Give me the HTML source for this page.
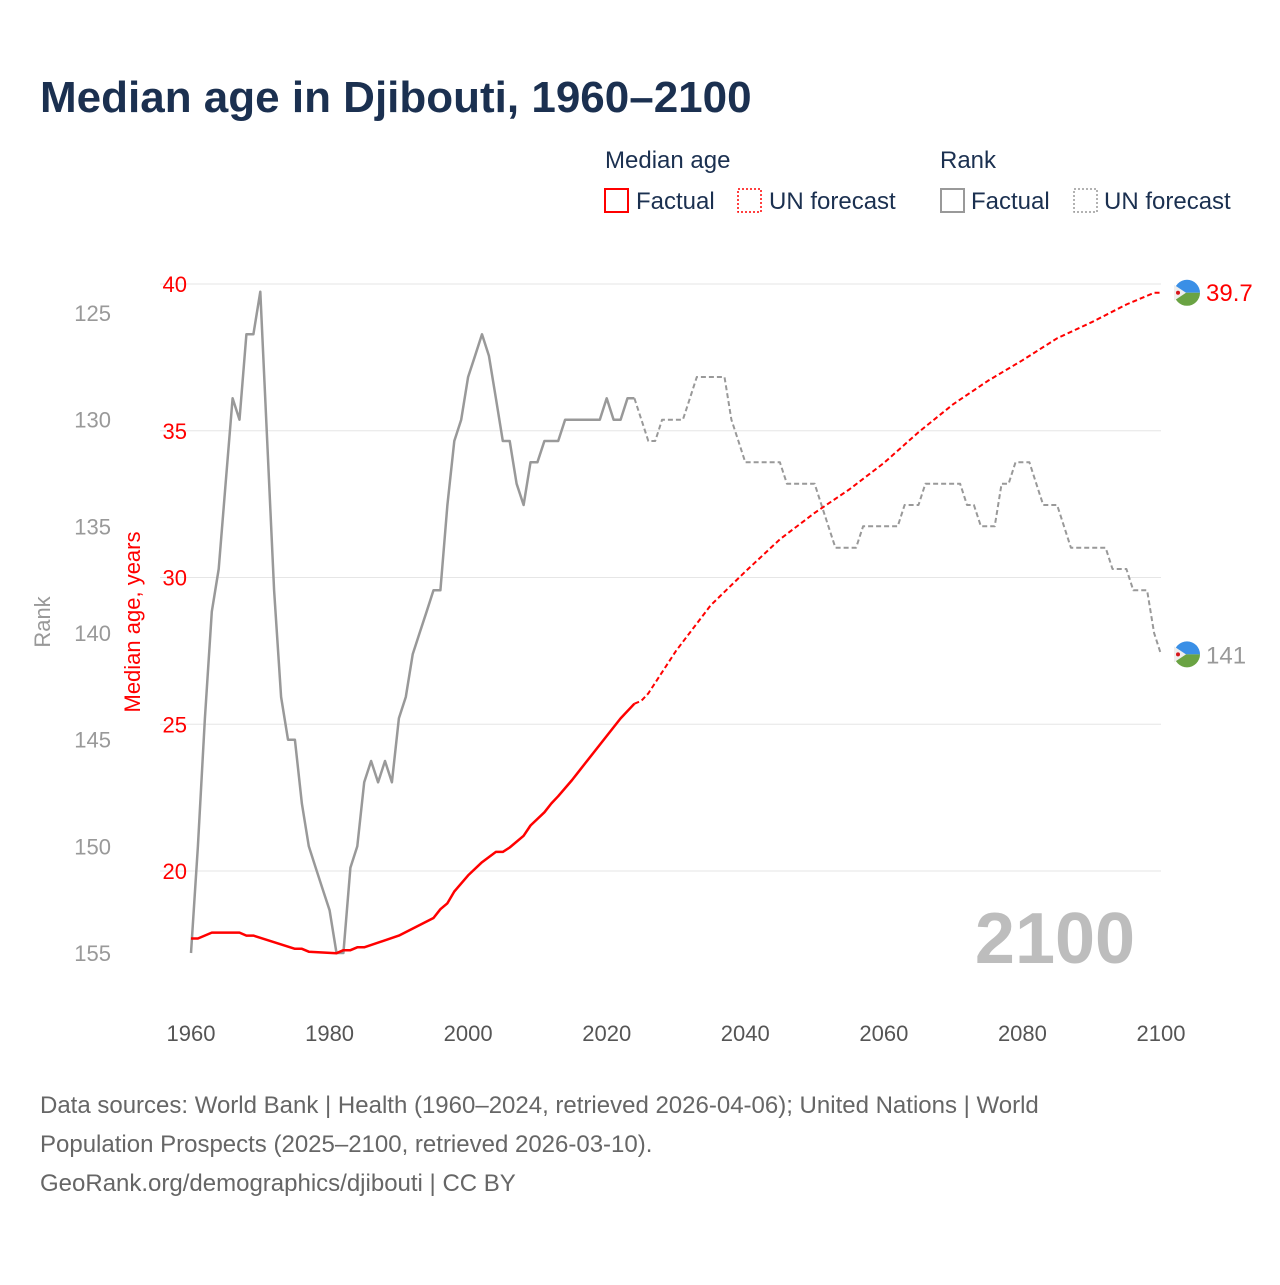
<!DOCTYPE html>
<html><head><meta charset="utf-8"><style>
body{margin:0;background:#fff;font-family:"Liberation Sans",sans-serif}
svg text{font-family:"Liberation Sans",sans-serif}
</style></head><body>
<svg id="c" width="1280" height="1280" viewBox="0 0 1280 1280">
<text x="40" y="112" font-size="44" font-weight="bold" fill="#1b3050">Median age in Djibouti, 1960–2100</text>
<g font-size="24" fill="#1b3050">
<text x="605" y="168" fill="#1b3050">Median age</text>
<text x="940" y="168" fill="#1b3050">Rank</text>
<rect x="605" y="189" width="23" height="23" fill="none" stroke="#f00" stroke-width="2"/>
<text x="636" y="209" fill="#1b3050">Factual</text>
<rect x="738" y="189" width="23" height="23" fill="none" stroke="#f00" stroke-width="1.5" stroke-dasharray="2,2"/>
<text x="769" y="209" fill="#1b3050">UN forecast</text>
<rect x="941" y="189" width="23" height="23" fill="none" stroke="#999" stroke-width="2"/>
<text x="971" y="209" fill="#1b3050">Factual</text>
<rect x="1074" y="189" width="23" height="23" fill="none" stroke="#999" stroke-width="1.5" stroke-dasharray="2,2"/>
<text x="1104" y="209" fill="#1b3050">UN forecast</text>
</g>
<g id="grid"></g><g id="axes"></g>
<text x="1055" y="963" font-size="72" font-weight="bold" fill="#bdbdbd" text-anchor="middle">2100</text>
<g id="lines"></g><g id="ends"></g>
<text transform="translate(50,622) rotate(-90)" font-size="22" fill="#999" text-anchor="middle">Rank</text>
<text transform="translate(140,622) rotate(-90)" font-size="22" fill="#f00" text-anchor="middle">Median age, years</text>
<g font-size="24" fill="#666">
<text x="40" y="1113">Data sources: World Bank | Health (1960–2024, retrieved 2026-04-06); United Nations | World</text>
<text x="40" y="1152">Population Prospects (2025–2100, retrieved 2026-03-10).</text>
<text x="40" y="1191">GeoRank.org/demographics/djibouti | CC BY</text>
</g>
</svg>
<script>
const xTicks=[1960,1980,2000,2020,2040,2060,2080,2100];
const ageTicks=[20,25,30,35,40];
const rankTicks=[125,130,135,140,145,150,155];
const ageFactYears=[1960,1961,1963,1967,1968,1969,1975,1976,1977,1981,1982,1983,1984,1985,1990,1995,1996,1997,1998,2000,2002,2004,2005,2006,2008,2009,2011,2012,2013,2015,2016,2017,2020,2022,2024];
const ageFactVals=[17.7,17.7,17.9,17.9,17.8,17.8,17.35,17.35,17.25,17.2,17.3,17.3,17.4,17.4,17.8,18.4,18.7,18.9,19.3,19.85,20.3,20.65,20.65,20.8,21.2,21.55,22.0,22.3,22.55,23.1,23.4,23.7,24.6,25.2,25.7];
const ageFcYears=[2024,2025,2026,2030,2035,2040,2045,2050,2055,2060,2065,2070,2075,2080,2085,2090,2095,2099,2100];
const ageFcVals=[25.7,25.8,26.05,27.5,29.05,30.2,31.3,32.2,33.0,33.9,34.95,35.9,36.7,37.4,38.15,38.7,39.3,39.7,39.7];
const rankFactYears=[];for(let y=1960;y<=2024;y++)rankFactYears.push(y);
const rankFactVals=[155,150,144,139,137,133,129,130,126,126,124,131,138,143,145,145,148,150,151,152,153,155,155,151,150,147,146,147,146,147,144,143,141,140,139,138,138,134,131,130,128,127,126,127,129,131,131,133,134,132,132,131,131,131,130,130,130,130,130,130,129,130,130,129,129];
const rankFcYears=[];for(let y=2024;y<=2100;y++)rankFcYears.push(y);
const rankFcVals=[129,130,131,131,130,130,130,130,129,128,128,128,128,128,130,131,132,132,132,132,132,132,133,133,133,133,133,134,135,136,136,136,136,135,135,135,135,135,135,134,134,134,133,133,133,133,133,133,134,134,135,135,135,133,133,132,132,132,133,134,134,134,135,136,136,136,136,136,136,137,137,137,138,138,138,140,141];
const NS='http://www.w3.org/2000/svg';
const X=y=>191+(y-1960)*970/140;
const YA=v=>284+(40-v)*(587/20);
const YR=r=>313+(r-125)*(640/30);
function mk(tag,attrs,parent){const e=document.createElementNS(NS,tag);for(const k in attrs)e.setAttribute(k,attrs[k]);parent.appendChild(e);return e;}
const grid=document.getElementById('grid'),axes=document.getElementById('axes'),lines=document.getElementById('lines'),ends=document.getElementById('ends');
ageTicks.forEach(v=>{
 const l=mk('line',{x1:160,x2:1161,y1:YA(v),y2:YA(v),stroke:'#e6e6e6','stroke-width':1},grid);
 
 
 const t=mk('text',{x:187,y:YA(v)+8,'font-size':22,fill:'#f00','text-anchor':'end'},axes);t.textContent=v;
 
 
});
rankTicks.forEach(v=>{
 const t=mk('text',{x:111,y:YR(v)+8,'font-size':22,fill:'#999','text-anchor':'end'},axes);t.textContent=v;
 
 
});
xTicks.forEach(v=>{
 const t=mk('text',{x:X(v),y:1041,'font-size':22,fill:'#555','text-anchor':'middle'},axes);t.textContent=v;
 
 
});
function path(xs,vs,yf,stroke,dash,w){
 const d=xs.map((y,i)=>(i?'L':'M')+X(y).toFixed(1)+','+yf(vs[i]).toFixed(1)).join(' ');
 const p=mk('path',{d:d,fill:'none',stroke:stroke,'stroke-width':w,'stroke-linejoin':'round'},lines);
 if(dash)p.setAttribute('stroke-dasharray',dash);
 return p;
}
let p;
p=path(rankFactYears,rankFactVals,YR,'#999',null,2.5);


p=path(rankFcYears,rankFcVals,YR,'#999','5,3',2);


p=path(ageFactYears,ageFactVals,YA,'#f00',null,2.5);


p=path(ageFcYears,ageFcVals,YA,'#f00','5,3',2);


function flag(cx,cy,name){
 const g=mk('g',{},ends);
 
 
 const r=13;
 mk('path',{d:`M${cx-r},${cy} A${r},${r} 0 0 1 ${cx+r},${cy} Z`,fill:'#3a8fe6'},g);
 mk('path',{d:`M${cx-r},${cy} A${r},${r} 0 0 0 ${cx+r},${cy} Z`,fill:'#6aa343'},g);
 mk('path',{d:`M${cx-r},${cy-8} L${cx-1},${cy} L${cx-r},${cy+8} Z`,fill:'#eee'},g);
 mk('circle',{cx:cx-9,cy:cy,r:2,fill:'#d7141a'},g);
}
const lastAge=ageFcVals[ageFcVals.length-1],lastRank=rankFcVals[rankFcVals.length-1];
flag(1187,YA(lastAge),'median-end-flag');
flag(1187,YR(lastRank),'rank-end-flag');
let t=mk('text',{x:1206,y:YA(lastAge)+8,'font-size':24,fill:'#f00'},ends);t.textContent=lastAge.toFixed(1);


t=mk('text',{x:1206,y:YR(lastRank)+9,'font-size':24,fill:'#999'},ends);t.textContent=lastRank;


</script>
</body></html>
